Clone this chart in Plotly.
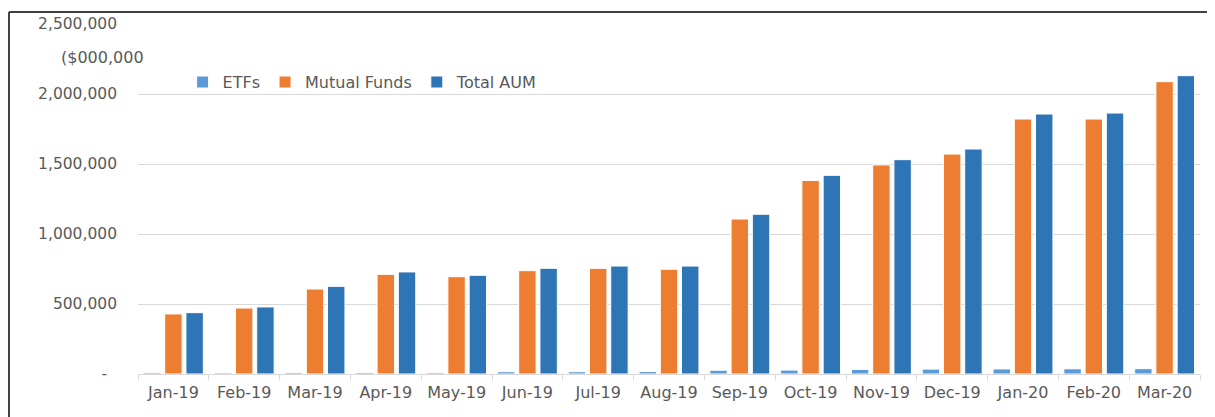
import plotly.graph_objects as go

# -- data ------------------------------------------------------------------------------------------- #
months = ['Jan-19', 'Feb-19', 'Mar-19', 'Apr-19', 'May-19', 'Jun-19', 'Jul-19', 'Aug-19',
          'Sep-19', 'Oct-19', 'Nov-19', 'Dec-19', 'Jan-20', 'Feb-20', 'Mar-20']
etfs = [9000, 8000, 10000, 10000, 9000, 16000, 16000, 17000,
        27000, 28000, 33000, 35000, 36000, 37000, 38000]
mutual_funds = [429000, 471000, 607000, 712000, 695000, 738000, 755000, 748000,
                1107000, 1383000, 1493000, 1571000, 1821000, 1821000, 2088000]
total_aum = [438000, 479000, 626000, 729000, 705000, 755000, 771000, 771000,
             1141000, 1419000, 1531000, 1607000, 1857000, 1864000, 2131000]

y_ticks = [0, 500000, 1000000, 1500000, 2000000, 2500000]
y_tick_text = ['-\u00a0\u00a0', '500,000', '1,000,000', '1,500,000', '2,000,000', '2,500,000']

# -- style ------------------------------------------------------------------------------------------ #
font_family = 'DejaVu Sans'
grey_txt = '#595959'
grid_col = '#D9D9D9'

fig = go.Figure()
fig.add_trace(go.Bar(x=months, y=etfs, name='ETFs',
                     marker=dict(color='#5B9BD5', line=dict(color='white', width=1))))
fig.add_trace(go.Bar(x=months, y=mutual_funds, name='Mutual Funds',
                     marker=dict(color='#ED7D31', line=dict(color='white', width=1))))
fig.add_trace(go.Bar(x=months, y=total_aum, name='Total AUM',
                     marker=dict(color='#2E75B6', line=dict(color='white', width=1))))

# page body keeps an 8px margin, so the figure is 8px smaller than the window
fig.update_layout(
    width=1207, height=409,
    margin=dict(l=130, r=15, t=16, b=43),
    paper_bgcolor='white', plot_bgcolor='white',
    font=dict(family=font_family, size=15, color=grey_txt),
    barmode='group', bargap=0.1, bargroupgap=0.18,
    showlegend=True,
    legend=dict(orientation='h', x=0.042, y=0.834, xanchor='left', yanchor='middle',
                bgcolor='rgba(0,0,0,0)', font=dict(size=16, color=grey_txt),
                itemwidth=30, traceorder='normal'),
)

fig.update_xaxes(showgrid=False, showline=True, linecolor=grid_col, linewidth=1,
                 ticks='outside', tickson='boundaries', ticklen=5, tickcolor=grid_col,
                 ticklabelstandoff=4,
                 tickfont=dict(size=16, color=grey_txt), automargin=False)
fig.update_yaxes(range=[0, 2500000], tickvals=y_ticks, ticktext=y_tick_text,
                 showgrid=True, gridcolor=grid_col, gridwidth=1, zeroline=False,
                 showline=False, ticks='', ticklabelstandoff=20,
                 tickfont=dict(size=15.5, color=grey_txt), automargin=False)

# units label
fig.add_annotation(text='($000,000', xref='paper', yref='paper', x=-0.0745, y=0.903,
                   xanchor='left', yanchor='middle', showarrow=False,
                   font=dict(size=16, color=grey_txt))

# chart frame (cut-off border of the original chart object)
fig.add_shape(type='line', xref='paper', yref='paper', x0=-0.1215, x1=1.02, y0=1.034, y1=1.034,
              line=dict(color='#404040', width=2))
fig.add_shape(type='line', xref='paper', yref='paper', x0=-0.1215, x1=-0.1215, y0=1.034, y1=-0.13,
              line=dict(color='#404040', width=2))

fig.write_html('out.html')
